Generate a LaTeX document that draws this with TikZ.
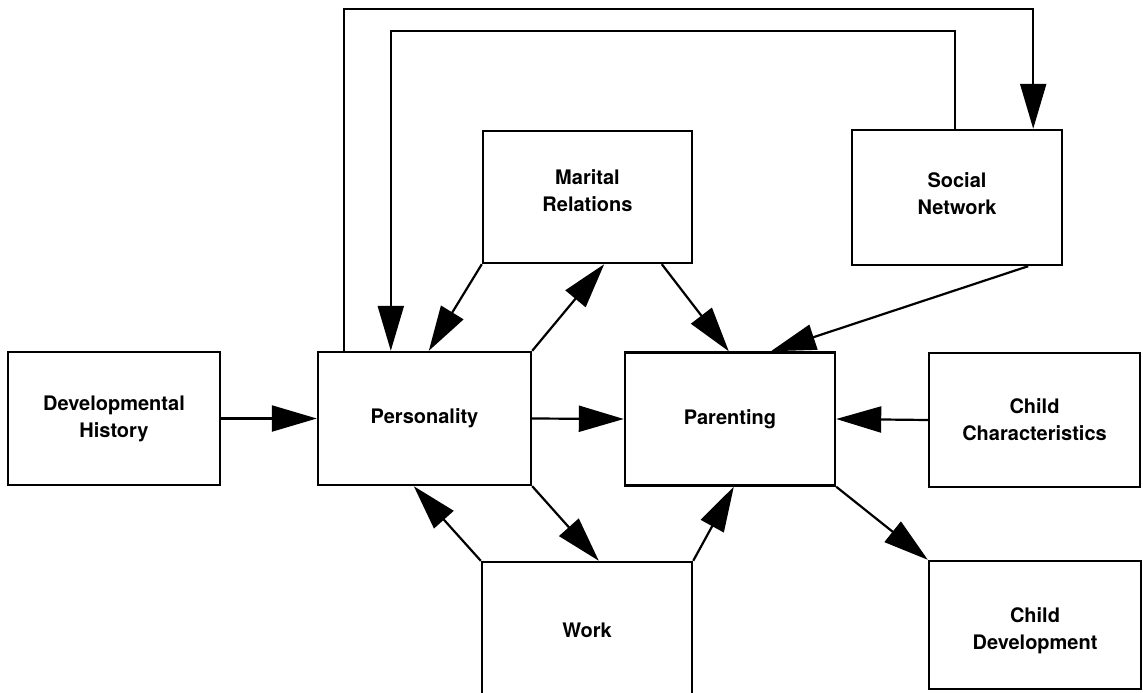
\documentclass[tikz,border=0pt]{standalone}
\usepackage{fontspec}
\setmainfont{TeX Gyre Heros}
\usetikzlibrary{arrows.meta,calc}
\tikzset{
  txt/.style={align=center, font=\fontsize{20}{27}\selectfont\bfseries, inner sep=0pt},
  box/.style={draw=black, line width=2.4pt, rectangle, inner sep=0pt, txt},
  arr/.style={draw=black, line width=2.2pt, -{Triangle[length=45pt,width=26pt]}},
}
\begin{document}
\begin{tikzpicture}[x=1pt,y=-1pt]
\useasboundingbox (0,0) rectangle (1143,693);
\fill[white] (0,0) rectangle (1143,693);
\node[box, minimum width=212pt, minimum height=133pt] (dev) at (114,418.5) {Developmental\\History};
\node[box, minimum width=213pt, minimum height=133pt] (pers) at (424.5,418.5) {Personality};
\node[box, minimum width=210pt, minimum height=133pt] (par) at (730,419) {Parenting};
\node[box, minimum width=211pt, minimum height=134pt] (cc) at (1034.5,420) {Child\\Characteristics};
\node[box, minimum width=209pt, minimum height=132pt,
  label={[txt, yshift=6pt]center:Marital\\Relations}] (mar) at (587.5,197) {};
\node[box, minimum width=210pt, minimum height=135pt,
  label={[txt, yshift=4pt]center:Social\\Network}] (soc) at (957,197.5) {};
\node[box, minimum width=210pt, minimum height=136pt] (work) at (587,630) {Work};
\node[box, minimum width=212pt, minimum height=128pt,
  label={[txt, yshift=-6pt]center:Child\\Development}] (cd) at (1035,625) {};

% long loops over the top
\draw[arr] ([xshift=27pt]pers.north west) |- ([xshift=-30pt,yshift=120pt]soc.north east) -- ([xshift=-30pt]soc.north east);
\draw[arr] ([xshift=104pt]soc.north west) |- ([xshift=74pt,yshift=320pt]pers.north west) -- ([xshift=74pt]pers.north west);

% marital relations
\draw[arr] (mar.south west) -- ([xshift=112pt]pers.north west);
\draw[arr] (pers.north east) -- ([xshift=-89pt]mar.south east);
\draw[arr] ([xshift=180pt]mar.south west) -- ([xshift=105pt]par.north west);

% social network to parenting
\draw[arr] ([xshift=-35pt]soc.south east) -- ([xshift=147pt]par.north west);

% horizontal
\draw[arr] (dev.east) -- (pers.west);
\draw[arr] (pers.east) -- (par.west);
\draw[arr] (cc.west) -- (par.east);

% work
\draw[arr] (pers.south east) -- ([xshift=118pt]work.north west);
\draw[arr] (work.north west) -- ([xshift=97pt]pers.south west);
\draw[arr] (work.north east) -- ([xshift=110pt]par.south west);

% child development
\draw[arr] (par.south east) -- (cd.north west);
\end{tikzpicture}
\end{document}
